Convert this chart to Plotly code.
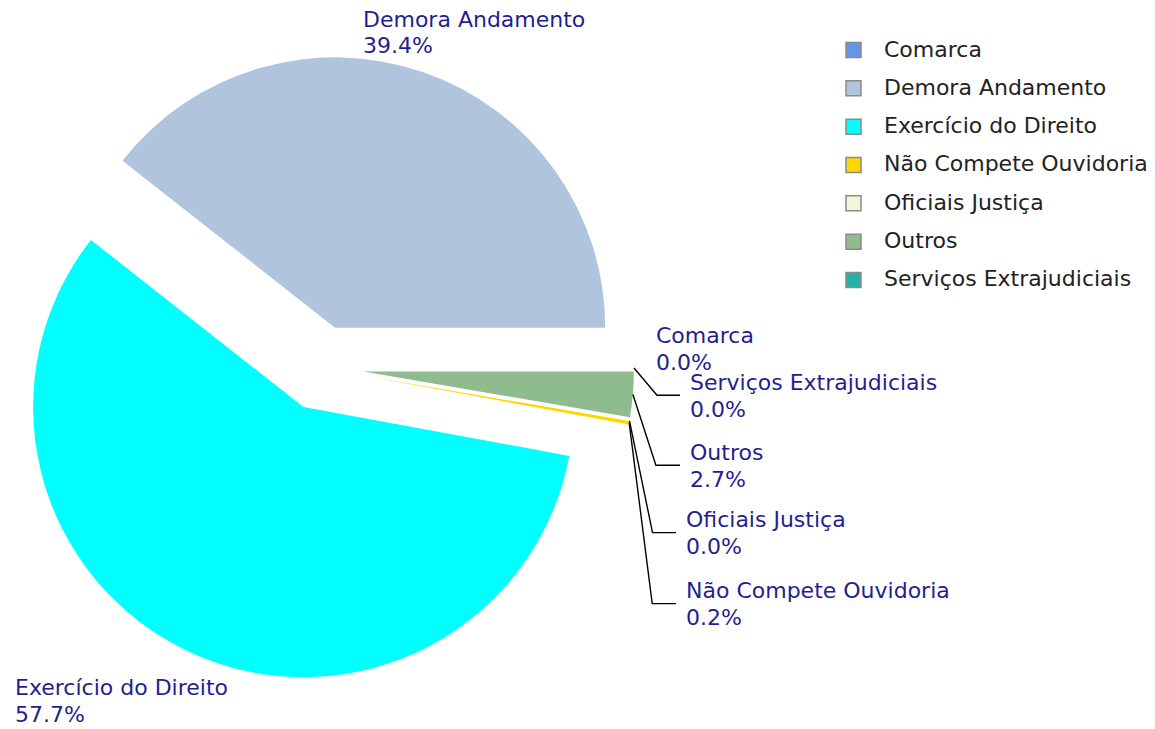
import math
import plotly.graph_objects as go

# ---- data ----
categories = ["Comarca", "Demora Andamento", "Exercício do Direito",
              "Não Compete Ouvidoria", "Oficiais Justiça", "Outros",
              "Serviços Extrajudiciais"]
percentages = [0.0, 39.4, 57.7, 0.2, 0.0, 2.7, 0.0]
slice_colors = ["#6495ED", "#B0C4DE", "#00FFFF", "#FFD700", "#F5F5DC",
                "#8FBC8F", "#20B2AA"]

# ---- style / layout constants (screen pixel coordinates) ----
W, H = 1155, 729
SHIFT = 8                         # page body margin offset
PULL = 0.158
BOX = (8, 53, 634, 683)           # pie box on screen (x0, y0, x1, y1)
FONT = "DejaVu Sans"
FS = 22
LABEL_COLOR = "#1f1f8f"
LEGEND_COLOR = "#222222"
LINE_GAP = 26.7

# label placement: text left x, first-line baseline y, leader line?
label_layout = {
    "Comarca": (655, 343.3, False),
    "Demora Andamento": (362, 26.7, False),
    "Exercício do Direito": (14, 695.5, False),
    "Não Compete Ouvidoria": (685, 598.3, True),
    "Oficiais Justiça": (685, 527.3, True),
    "Outros": (689, 460.0, True),
    "Serviços Extrajudiciais": (689, 390.0, True),
}

cx = (BOX[0] + BOX[2]) / 2
cy = (BOX[1] + BOX[3]) / 2
half = min(BOX[2] - BOX[0], BOX[3] - BOX[1]) / 2
r = half / (1 + PULL)
d = PULL * r

fig = go.Figure()
fig.add_trace(go.Pie(
    labels=categories,
    values=percentages,
    marker=dict(colors=slice_colors, line=dict(width=0)),
    pull=[PULL] * len(categories),
    sort=False,
    direction="counterclockwise",
    rotation=90,
    textinfo="none",
    hoverinfo="label+percent",
    showlegend=False,
    domain=dict(x=[(BOX[0] - SHIFT) / W, (BOX[2] - SHIFT) / W],
                y=[1 - (BOX[3] - SHIFT) / H, 1 - (BOX[1] - SHIFT) / H]),
))

total = sum(percentages)
annotations = []
shapes = []
cum = 0.0
for name, v in zip(categories, percentages):
    a0 = cum / total * 360.0
    cum += v
    a1 = cum / total * 360.0
    mid = math.radians((a0 + a1) / 2) if v > 0 else math.radians(a0)
    ax = cx + (r + d) * math.cos(mid)
    ay = cy - (r + d) * math.sin(mid)
    tx, base, leader = label_layout[name]
    pct = f"{v / total * 100:.1f}%"
    for k, line in enumerate([name, pct]):
        annotations.append(dict(
            x=tx, y=base + k * LINE_GAP - 0.346 * FS, xref="x", yref="y",
            text=line, showarrow=False, xanchor="left", yanchor="middle",
            borderpad=0, font=dict(family=FONT, size=FS, color=LABEL_COLOR)))
    if leader:
        ymid = base - 0.73 * FS + (LINE_GAP + 0.73 * FS) / 2
        shapes.append(dict(
            type="path", xref="x", yref="y",
            path=f"M {ax:.1f},{ay:.1f} L {ax + 23:.1f},{ymid:.1f} L {tx - 9:.1f},{ymid:.1f}",
            line=dict(color="black", width=1.4)))

# custom legend
LEG_X, LEG_Y0, LEG_DY, SW = 846, 50, 38.33, 15
for i, (name, col) in enumerate(zip(categories, slice_colors)):
    yc = LEG_Y0 + i * LEG_DY
    shapes.append(dict(type="rect", xref="x", yref="y",
                       x0=LEG_X, x1=LEG_X + SW, y0=yc - SW / 2, y1=yc + SW / 2,
                       fillcolor=col, line=dict(color="#8a8a8a", width=1.5)))
    annotations.append(dict(
        x=883, y=yc - 1, xref="x", yref="y", text=name, showarrow=False,
        xanchor="left", yanchor="middle", borderpad=0,
        font=dict(family=FONT, size=FS, color=LEGEND_COLOR)))

fig.update_layout(
    width=W, height=H,
    margin=dict(l=0, r=0, t=0, b=0),
    paper_bgcolor="white", plot_bgcolor="white",
    xaxis=dict(range=[SHIFT, W + SHIFT], visible=False, fixedrange=True),
    yaxis=dict(range=[H + SHIFT, SHIFT], visible=False, fixedrange=True),
    annotations=annotations,
    shapes=shapes,
    font=dict(family=FONT),
)

fig.write_html("out.html")
